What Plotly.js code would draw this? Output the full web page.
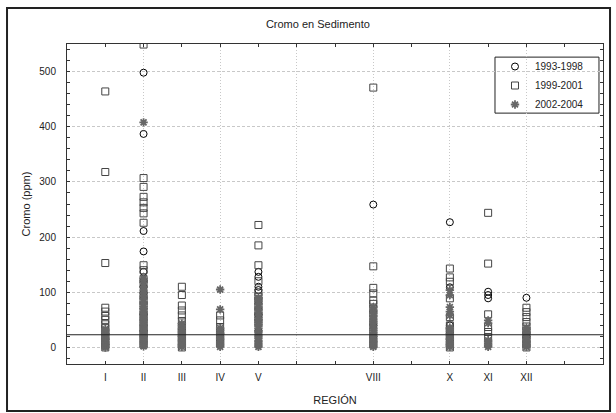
<!DOCTYPE html>
<html>
<head>
<meta charset="utf-8">
<script src="https://cdn.plot.ly/plotly-3.0.1.min.js"></script>
<style>html,body{margin:0;padding:0;background:#fff;} #chart{width:616px;height:413px;}</style>
</head>
<body>
<div id="chart"></div>
<script>
// Region positions and labels
const regionPos = [1, 2, 3, 4, 5, 8, 10, 11, 12];
const regionLabels = ["I", "II", "III", "IV", "V", "VIII", "X", "XI", "XII"];
const refLevel = 23;

// Values per region (same order as regionPos), ppm
// 1993-1998 (circles)
const circ9398 = [
  [5, 15, 25],
  [498, 387, 211, 174, 137, 121, 110, 100, 60, 30],
  [20, 32],
  [15, 25],
  [137, 128, 110, 104, 60, 30],
  [259, 40, 20],
  [227, 109, 40, 15],
  [101, 95, 89],
  [90, 20]
];
// 1999-2001 (squares)
const sq9901 = [
  [464, 318, 153, 72, 65, 57, 50, 42, 35, 28, 20, 12, 5, 0],
  [549, 307, 291, 273, 263, 253, 243, 226, 149, 140, 124, 113, 95, 85, 76, 65, 55, 45, 35, 25, 15, 5],
  [110, 95, 76, 67, 58, 48, 38, 28, 18, 8, 0],
  [58, 49, 37, 28, 18, 8],
  [222, 185, 149, 120, 100, 92, 85, 75, 65, 55, 45],
  [471, 147, 108, 98, 85, 79, 70, 60, 45, 30, 15, 5],
  [143, 127, 119, 89, 55, 40, 30, 20, 10, 0],
  [244, 152, 60, 37, 28, 19],
  [72, 64, 55, 46, 38, 30, 22, 14, 6, 0]
];
// 2002-2004 (asterisks)
const ast0204 = [
  [0, 3, 6, 9, 12, 15, 18, 21, 24, 27, 30, 33],
  [408, 2, 5, 8, 12, 15, 18, 22, 25, 28, 32, 35, 38, 42, 45, 48, 52, 55, 58, 62, 65, 70, 74, 78, 83, 88, 93, 98, 104, 110, 118, 125],
  [1, 4, 7, 10, 13, 16, 19, 22, 25, 28, 31, 35, 39, 43],
  [105, 69, 1, 4, 7, 10, 14, 17, 20, 24, 27, 31, 35],
  [1, 4, 7, 10, 13, 17, 20, 23, 27, 30, 34, 38, 42, 46, 50, 54, 58, 63, 68, 73, 78, 84, 90],
  [1, 4, 7, 10, 13, 16, 20, 23, 27, 31, 35, 39, 43, 47, 52, 57, 62, 67, 73],
  [104, 95, 73, 65, 58, 1, 4, 7, 10, 14, 17, 21, 25, 29, 33, 36],
  [49, 44, 1, 4, 7, 10, 13],
  [1, 4, 7, 10, 13, 16, 20, 24, 28, 32, 36]
];

function flatten(groups) {
  const xs = [], ys = [];
  groups.forEach((vals, i) => vals.forEach(v => { xs.push(regionPos[i]); ys.push(v); }));
  return {x: xs, y: ys};
}
const c = flatten(circ9398), s = flatten(sq9901), a = flatten(ast0204);

const traces = [
  {type:'scatter', mode:'markers', name:'1993-1998', x:c.x, y:c.y,
   marker:{symbol:'circle-open', size:7, color:'#000', line:{width:1, color:'#000'}}},
  {type:'scatter', mode:'markers', name:'1999-2001', x:s.x, y:s.y,
   marker:{symbol:'square-open', size:7, color:'#444', line:{width:1, color:'#444'}}},
  {type:'scatter', mode:'markers', name:'2002-2004', x:a.x, y:a.y,
   marker:{symbol:'asterisk-open', size:7, color:'#666', line:{width:1.8, color:'#666'}}},
  {type:'scatter', mode:'markers', x:[], y:[], xaxis:'x2', showlegend:false, hoverinfo:'skip'}
];

const fontFam = 'Arial, "Liberation Sans", sans-serif';
const layout = {
  width:616, height:413,
  margin:{l:67, r:13, t:44, b:49},
  paper_bgcolor:'#fff', plot_bgcolor:'#fff',
  font:{family:fontFam, size:10, color:'#222'},
  title:{text:'Cromo en Sedimento', font:{size:11, color:'#222'}, xref:'container', x:0.516, xanchor:'center', yref:'container', y:0.942, yanchor:'middle'},
  xaxis:{range:[0,14], tickmode:'array', tickvals:regionPos, ticktext:regionLabels,
    showgrid:false, zeroline:false, showline:true, linecolor:'#333', linewidth:1, mirror:'allticks',
    ticks:'inside', ticklen:3, tickcolor:'#333',
    minor:{tickmode:'linear', tick0:0, dtick:1, ticks:'inside', ticklen:3, tickcolor:'#333', showgrid:false},
    ticklabelstandoff:4,
    title:{text:'REGIÓN', font:{size:11, color:'#222'}, standoff:14}},
  xaxis2:{range:[0,14], overlaying:'x', anchor:'y', side:'bottom', tickmode:'linear', tick0:0, dtick:2,
    showgrid:true, gridcolor:'#c8c8c8', griddash:'1px,2px', gridwidth:1, showticklabels:false, ticks:'', zeroline:false, showline:false},
  yaxis:{range:[-30,550], tickmode:'linear', tick0:0, dtick:100,
    showgrid:true, gridcolor:'#c8c8c8', griddash:'3px,2px', gridwidth:1, zeroline:false,
    showline:true, linecolor:'#333', linewidth:1, mirror:'allticks',
    ticks:'inside', ticklen:3, tickcolor:'#333',
    minor:{tickmode:'linear', tick0:0, dtick:20, ticks:'inside', ticklen:2, tickcolor:'#333', showgrid:false},
    ticklabelstandoff:8,
    title:{text:'Cromo (ppm)', font:{size:11, color:'#222'}, standoff:6}},
  legend:{x:0.7985, y:0.975, xanchor:'left', yanchor:'top', bgcolor:'rgba(0,0,0,0)', borderwidth:0,
    font:{size:10, color:'#222'}, itemclick:false},
  showlegend:true,
  shapes:[
    {type:'line', xref:'paper', x0:0, x1:1, yref:'y', y0:refLevel, y1:refLevel, line:{color:'#222', width:1}},
    {type:'rect', xref:'paper', yref:'paper', x0:0.7985, x1:0.9925, y0:0.784, y1:0.959, fillcolor:'#fff', line:{color:'#222', width:1}, layer:'between'},
    {type:'rect', xref:'paper', yref:'paper', x0:-0.1119, x1:1.0131, y0:-0.1469, y1:1.1125, line:{color:'#222', width:2}, layer:'below'}
  ]
};

Plotly.newPlot('chart', traces, layout, {displayModeBar:false, staticPlot:true});
</script>
</body>
</html>
